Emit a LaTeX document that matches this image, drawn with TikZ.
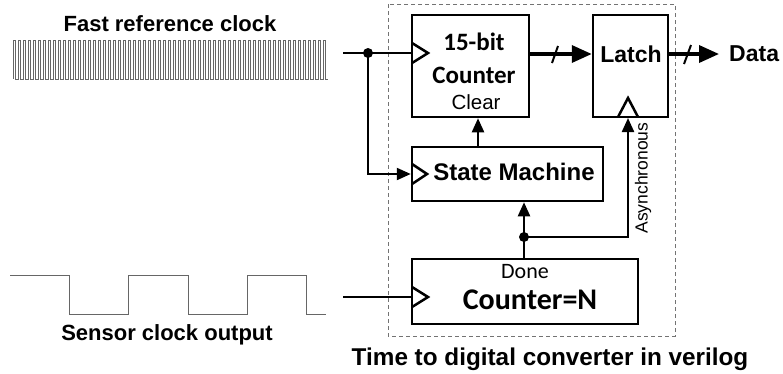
\documentclass[tikz,border=0pt]{standalone}
\usepackage{fontspec}
\setmainfont{Liberation Sans}
\newfontfamily\calfont{Carlito}
\usetikzlibrary{arrows.meta}
\begin{document}
\begin{tikzpicture}[x=1pt,y=-1pt,
  blk/.style={draw,line width=2.5pt,minimum width=#1,inner sep=0pt},
  txt/.style={inner sep=0pt,anchor=center},
  wire/.style={line width=2.2pt},
  arr/.style={wire,-{Triangle[length=14pt,width=12pt]}},
  bus/.style={line width=3.5pt,-{Triangle[length=20pt,width=17pt]}},
  wave/.style={draw=black!60,line width=1pt},
  dot/.style={circle,fill,inner sep=0pt,minimum size=10pt}]
\useasboundingbox (0,0) rectangle (783,373);
% dashed frame
\draw[black!55,dashed,dash pattern=on 4pt off 3pt,line width=0.8pt] (388,4) rectangle (675,336);
% boxes
\node[blk=117pt,minimum height=102pt] (cnt) at (470.5,66) {};
\node[blk=75pt,minimum height=102pt] (latch) at (630.5,66) {};
\node[blk=191pt,minimum height=54pt] (sm) at (507.5,174) {};
\node[blk=226pt,minimum height=65pt] (cn) at (525,291.5) {};
% clock triangles
\draw[line width=2.5pt] (412,43) -- (428,53) -- (412,63);
\draw[line width=2.5pt] (412,164) -- (427,174) -- (412,184);
\draw[line width=2.5pt] (412,287) -- (428,297) -- (412,307);
\draw[line width=2.5pt] (618,117) -- (628,98) -- (638,117);
% texts
\node[txt,font=\calfont\bfseries\fontsize{25}{28}\selectfont] (t15) at (474,42) {15-bit};
\node[txt,font=\calfont\bfseries\fontsize{25}{28}\selectfont] (tcnt) at (474,75) {Counter};
\node[txt,font=\fontsize{20.5}{24}\selectfont] (tclr) at (476,102) {Clear};
\node[txt,font=\bfseries\fontsize{23}{26}\selectfont] (tlatch) at (631,54) {Latch};
\node[txt,font=\bfseries\fontsize{23}{26}\selectfont,anchor=west] (data) at (729,54) {Data};
\node[txt,font=\bfseries\fontsize{24}{28}\selectfont] (tsm) at (514,172) {State Machine};
\node[txt,font=\fontsize{17.5}{20}\selectfont,rotate=90] (tasync) at (643,178) {Asynchronous};
\node[txt,font=\calfont\fontsize{22}{25}\selectfont] (tdone) at (525,272) {Done};
\node[txt,font=\calfont\bfseries\fontsize{30}{34}\selectfont] (tcn) at (530,300) {Counter=N};
\node[txt,font=\bfseries\fontsize{22}{26}\selectfont] (tfast) at (170,24) {Fast reference clock};
\node[txt,font=\bfseries\fontsize{22}{26}\selectfont] (tsens) at (167,335) {Sensor clock output};
\node[txt,font=\bfseries\fontsize{24.3}{28}\selectfont] (ttdc) at (550,359) {Time to digital converter in verilog};
% waveforms
\draw[wave] (13,79) \foreach \i in {0,...,62} { -- ++(0,-39) -- ++(2.5,0) -- ++(0,39) -- ++(2.5,0) };
\draw[wave] (10,275) -- (69,275) -- (69,314) -- (128,314) -- (128,275) -- (188,275) -- (188,314) -- (247,314) -- (247,275) -- (306,275) -- (306,314) -- (326,314);
% wiring
\coordinate (fin) at (343,53);
\coordinate (sin) at (343,297);
\coordinate (dend) at (719,54);
\node[dot] (j1) at (368,53) {};
\node[dot] (j2) at (524,237) {};
\draw[wire] (fin) -- (412,53);
\draw[arr] (j1.center) |- (sm.west);
\draw[wire] (sin) -- (cn.west |- sin);
\draw[arr] (sm.north -| 478,0) -- (cnt.south -| 478,0);
\draw[wire] (cn.north -| j2) -- (j2.center);
\draw[arr] (j2.center) -- (sm.south -| j2);
\draw[arr] (j2.center) -| (628,118);
\draw[bus] (cnt.east |- 0,54) -- (latch.west |- 0,54);
\draw[bus] (latch.east |- 0,54) -- (dend);
\draw[line width=2pt] (552,63) -- (558,46);
\draw[line width=2pt] (684,64) -- (691,45);
\end{tikzpicture}
\end{document}
